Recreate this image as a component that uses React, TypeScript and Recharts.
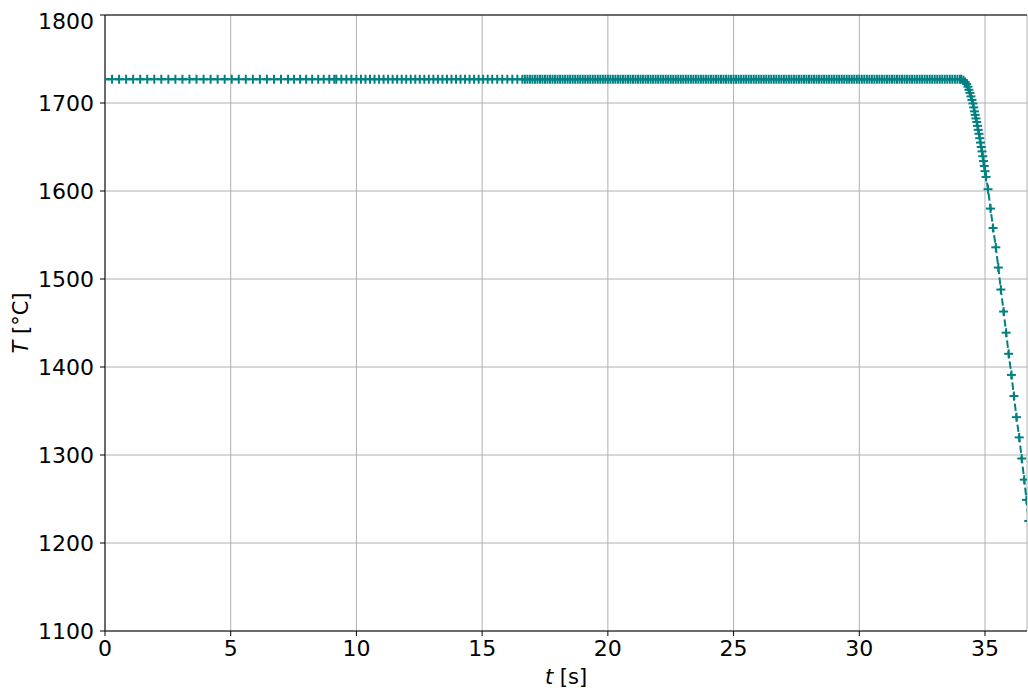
import React from 'react';
import { LineChart, Line, XAxis, YAxis, CartesianGrid, ReferenceLine } from 'recharts';

// holding temperature on the plateau
const PLATEAU_T = 1727;

// sparse time steps at the start of the hold
const sparseTimes = [
  0, 0.28, 0.56, 0.84, 1.12, 1.4, 1.68, 1.96, 2.24, 2.52,
  2.8, 3.08, 3.36, 3.64, 3.92, 4.2, 4.48, 4.76, 5.04, 5.32,
  5.6, 5.88, 6.16, 6.44, 6.72, 7.0, 7.28, 7.52, 7.76, 8.0,
  8.24, 8.48, 8.7, 8.92, 9.12, 9.2, 9.4, 9.6, 9.8, 10.0,
  10.18, 10.36, 10.54, 10.72, 10.9, 11.08, 11.26, 11.44, 11.62, 11.8,
  11.98, 12.16, 12.34, 12.52, 12.7, 12.88, 13.06, 13.24, 13.42, 13.6,
  13.78, 13.96, 14.14, 14.32, 14.5, 14.68, 14.86, 15.04, 15.22, 15.4,
  15.6, 15.8, 16.0, 16.2, 16.4,
];

// dense time steps, later in the hold
const denseTimes = [
  16.6, 16.7, 16.8, 16.9, 17.0, 17.1, 17.2, 17.3, 17.4, 17.5,
  17.6, 17.7, 17.8, 17.9, 18.0, 18.1, 18.2, 18.3, 18.4, 18.5,
  18.6, 18.7, 18.8, 18.9, 19.0, 19.1, 19.2, 19.3, 19.4, 19.5,
  19.6, 19.7, 19.8, 19.9, 20.0, 20.1, 20.2, 20.3, 20.4, 20.5,
  20.6, 20.7, 20.8, 20.9, 21.0, 21.1, 21.2, 21.3, 21.4, 21.5,
  21.6, 21.7, 21.8, 21.9, 22.0, 22.1, 22.2, 22.3, 22.4, 22.5,
  22.6, 22.7, 22.8, 22.9, 23.0, 23.1, 23.2, 23.3, 23.4, 23.5,
  23.6, 23.7, 23.8, 23.9, 24.0, 24.1, 24.2, 24.3, 24.4, 24.5,
  24.6, 24.7, 24.8, 24.9, 25.0, 25.1, 25.2, 25.3, 25.4, 25.5,
  25.6, 25.7, 25.8, 25.9, 26.0, 26.1, 26.2, 26.3, 26.4, 26.5,
  26.6, 26.7, 26.8, 26.9, 27.0, 27.1, 27.2, 27.3, 27.4, 27.5,
  27.6, 27.7, 27.8, 27.9, 28.0, 28.1, 28.2, 28.3, 28.4, 28.5,
  28.6, 28.7, 28.8, 28.9, 29.0, 29.1, 29.2, 29.3, 29.4, 29.5,
  29.6, 29.7, 29.8, 29.9, 30.0, 30.1, 30.2, 30.3, 30.4, 30.5,
  30.6, 30.7, 30.8, 30.9, 31.0, 31.1, 31.2, 31.3, 31.4, 31.5,
  31.6, 31.7, 31.8, 31.9, 32.0, 32.1, 32.2, 32.3, 32.4, 32.5,
  32.6, 32.7, 32.8, 32.9, 33.0, 33.1, 33.2, 33.3, 33.4, 33.5,
  33.6, 33.7, 33.8, 33.9, 34.0,
];

// cooling phase
const coolTimes = [
  34.05, 34.14, 34.21, 34.27, 34.32, 34.36, 34.40, 34.44, 34.48, 34.52,
  34.55, 34.58, 34.61, 34.64, 34.67, 34.70, 34.73, 34.76, 34.79, 34.82,
  34.85, 34.88, 34.91, 34.94, 34.97, 35.00, 35.04, 35.12, 35.22, 35.32,
  35.43, 35.53, 35.63, 35.74, 35.84, 35.94, 36.05, 36.15, 36.25, 36.36,
  36.46, 36.56, 36.65, 36.74,
];
const coolTemps = [
  1727, 1726, 1724, 1721.5, 1718.5, 1715, 1711.5, 1707.5, 1703.5, 1699.5,
  1695, 1690.5, 1686.5, 1682.5, 1678.5, 1674, 1669.5, 1665, 1660, 1655,
  1650, 1645, 1639.5, 1634, 1628.5, 1622.5, 1616, 1602, 1580, 1558,
  1536, 1513, 1488, 1463, 1439, 1415, 1391, 1367, 1343, 1320,
  1296, 1272, 1249, 1225,
];

const xTicks = [0, 5, 10, 15, 20, 25, 30, 35];
const yTicks = [1100, 1200, 1300, 1400, 1500, 1600, 1700, 1800];

const data = [
  ...sparseTimes.map(t => ({ t, T: PLATEAU_T })),
  ...denseTimes.map(t => ({ t, T: PLATEAU_T })),
  ...coolTimes.map((t, i) => ({ t, T: coolTemps[i] })),
];

const TEAL = '#008080';
const FONT = '"DejaVu Sans", sans-serif';

const PlusDot = (props: any) => {
  const { cx, cy, index } = props;
  if (cx == null || cy == null) return <g key={`d-${index}`} />;
  const r = 4.5;
  return (
    <g key={`d-${index}`}>
      <line x1={cx - r} y1={cy} x2={cx + r} y2={cy} stroke={TEAL} strokeWidth={2} />
      <line x1={cx} y1={cy - r} x2={cx} y2={cy + r} stroke={TEAL} strokeWidth={2} />
    </g>
  );
};

const XLabel = () => (
  <text x={558} y={676} textAnchor="middle" fontSize={21} fontFamily={FONT} fill="#000">
    <tspan fontStyle="italic">t</tspan> [s]
  </text>
);

const YLabel = () => (
  <text x={20} y={315} transform="rotate(-90, 20, 315)" textAnchor="middle" fontSize={21} fontFamily={FONT} fill="#000">
    <tspan fontStyle="italic">T</tspan> [°C]
  </text>
);

export default function App() {
  return (
    <div style={{ position: 'absolute', left: 8, top: 8, width: 1020, height: 683 }}>
      <LineChart width={1020} height={683} data={data} margin={{ top: 7, right: 1, bottom: 0, left: 0 }}>
        <CartesianGrid stroke="#b0b0b0" strokeWidth={1} />
        <XAxis
          dataKey="t"
          type="number"
          domain={[0, 36.67]}
          ticks={xTicks}
          allowDataOverflow
          height={60}
          stroke="#000"
          tickSize={5}
          tickMargin={4}
          tick={{ fontSize: 22, fontFamily: FONT, fill: '#000' }}
          label={<XLabel />}
        />
        <YAxis
          type="number"
          domain={[1100, 1800]}
          ticks={yTicks}
          allowDataOverflow
          width={97}
          stroke="#000"
          tickSize={5}
          tickMargin={6}
          tick={{ fontSize: 22, fontFamily: FONT, fill: '#000' }}
          label={<YLabel />}
        />
        <ReferenceLine y={1800} stroke="#000" strokeWidth={1} />
        <Line
          dataKey="T"
          stroke={TEAL}
          strokeWidth={2}
          strokeDasharray="7.4 3.2"
          dot={PlusDot}
          activeDot={false}
          isAnimationActive={false}
        />
      </LineChart>
    </div>
  );
}
